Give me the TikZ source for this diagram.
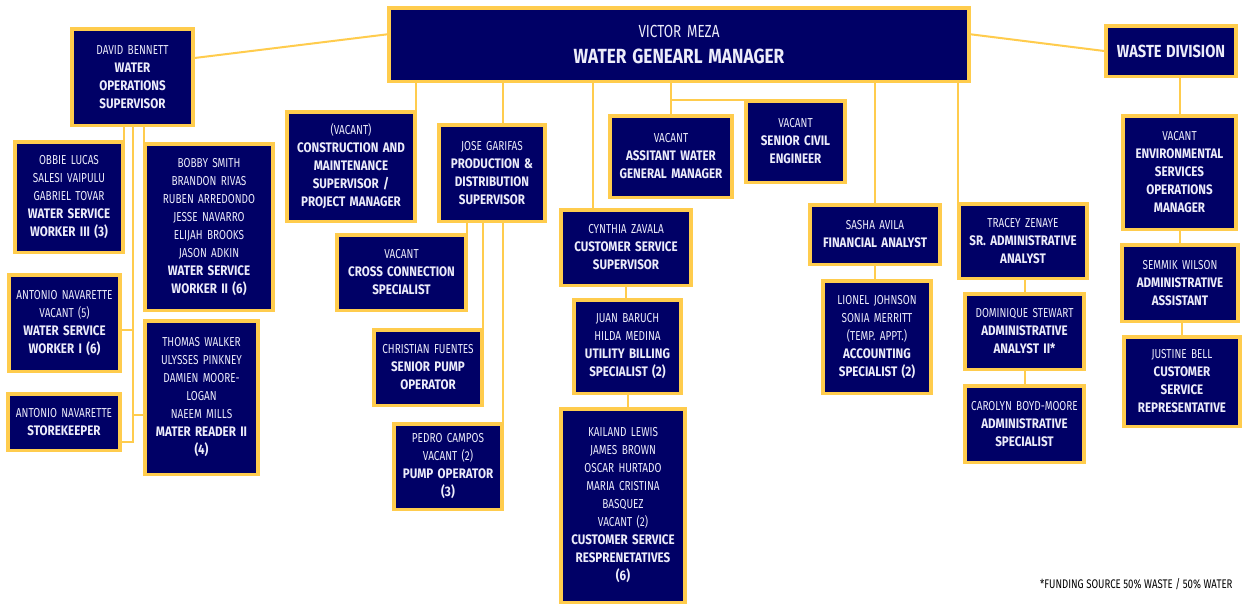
\documentclass[tikz,border=0pt]{standalone}
\usepackage{fontspec}
\newfontfamily\nmfamily{Fira Sans}[FakeStretch=0.77]
\newfontfamily\tlfamily{Fira Sans}[FakeStretch=0.84]
\newcommand\nmfont{\nmfamily\fontsize{13}{18}\selectfont}
\newcommand\ttlfont{\tlfamily\bfseries\fontsize{13.8}{18}\selectfont}
\definecolor{orgNavy}{RGB}{0,0,102}
\definecolor{orgGold}{RGB}{255,204,77}
\definecolor{orgText}{RGB}{236,236,250}
\begin{document}
\begin{tikzpicture}[x=1pt, y=-1pt,
    orgUnit/.style={draw=orgGold, line width=3.5pt, fill=orgNavy, text=orgText, align=center,
        inner xsep=2pt, inner ysep=0pt, font=\nmfont},
    orgLink/.style={draw=orgGold, line width=2pt}]
    \useasboundingbox[fill=white] (0,0) rectangle (1243,605);

    % top level
    \node[orgUnit, text width=576pt, minimum height=73.5pt,
        font=\nmfamily\fontsize{17.5}{26}\selectfont] (gm) at (679,44.5)
        {VICTOR MEZA\\\tlfamily\bfseries\fontsize{20.5}{26}\selectfont WATER GENEARL MANAGER};
    \node[orgUnit, text width=126pt, minimum height=50.5pt] (waste) at (1171,51)
        {\tlfamily\bfseries\fontsize{17.5}{18}\selectfont WASTE DIVISION};

    % water operations
    \node[orgUnit, text width=117pt, minimum height=96.5pt] (bennett) at (132.5,77)
        {DAVID BENNETT\\\ttlfont WATER\\OPERATIONS\\SUPERVISOR};
    \node[orgUnit, text width=104pt, minimum height=110.5pt] (obbie) at (69,197)
        {OBBIE LUCAS\\SALESI VAIPULU\\GABRIEL TOVAR\\\ttlfont WATER SERVICE\\WORKER III (3)};
    \node[orgUnit, text width=124pt, minimum height=166.5pt] (bobby) at (209,227)
        {BOBBY SMITH\\BRANDON RIVAS\\RUBEN ARREDONDO\\JESSE NAVARRO\\ELIJAH BROOKS\\JASON ADKIN\\\ttlfont WATER SERVICE\\WORKER II (6)};
    \node[orgUnit, text width=107pt, minimum height=96.5pt] (antonio) at (64.5,323)
        {ANTONIO NAVARETTE\\VACANT (5)\\\ttlfont WATER SERVICE\\WORKER I (6)};
    \node[orgUnit, text width=108pt, minimum height=56.5pt] (store) at (64,422)
        {ANTONIO NAVARETTE\\\ttlfont STOREKEEPER};
    \node[orgUnit, text width=109pt, minimum height=153.5pt] (thomas) at (201.5,397.5)
        {THOMAS WALKER\\ULYSSES PINKNEY\\DAMIEN MOORE-\\LOGAN\\NAEEM MILLS\\\ttlfont MATER READER II\\(4)};

    % construction and production
    \node[orgUnit, text width=124pt, minimum height=109.5pt] (constr) at (351,166.5)
        {(VACANT)\\\ttlfont CONSTRUCTION AND\\MAINTENANCE\\SUPERVISOR /\\PROJECT MANAGER};
    \node[orgUnit, text width=102pt, minimum height=96.5pt] (jose) at (492,173)
        {JOSE GARIFAS\\\ttlfont PRODUCTION \&\\DISTRIBUTION\\SUPERVISOR};
    \node[orgUnit, text width=125pt, minimum height=75.5pt] (cross) at (401.5,272.5)
        {VACANT\\\ttlfont CROSS CONNECTION\\SPECIALIST};
    \node[orgUnit, text width=104pt, minimum height=75.5pt] (christian) at (428,367.5)
        {CHRISTIAN FUENTES\\\ttlfont SENIOR PUMP\\OPERATOR};
    \node[orgUnit, text width=104pt, minimum height=85.5pt] (pedro) at (448,466.5)
        {PEDRO CAMPOS\\VACANT (2)\\\ttlfont PUMP OPERATOR\\(3)};

    % assistant, engineering, customer service
    \node[orgUnit, text width=118pt, minimum height=81.5pt] (asstgm) at (671,156.5)
        {VACANT\\\ttlfont ASSITANT WATER\\GENERAL MANAGER};
    \node[orgUnit, text width=95pt, minimum height=81.5pt] (civil) at (795.5,141.5)
        {VACANT\\\ttlfont SENIOR CIVIL\\ENGINEER};
    \node[orgUnit, text width=126pt, minimum height=75.5pt] (cynthia) at (626,247.5)
        {CYNTHIA ZAVALA\\\ttlfont CUSTOMER SERVICE\\SUPERVISOR};
    \node[orgUnit, text width=103pt, minimum height=93.5pt] (juan) at (627.5,346.5)
        {JUAN BARUCH\\HILDA MEDINA\\\ttlfont UTILITY BILLING\\SPECIALIST (2)};
    \node[orgUnit, text width=120pt, minimum height=193.5pt] (kailand) at (623,505.5)
        {KAILAND LEWIS\\JAMES BROWN\\OSCAR HURTADO\\MARIA CRISTINA\\BASQUEZ\\VACANT (2)\\\ttlfont CUSTOMER SERVICE\\RESPRENETATIVES\\(6)};

    % finance and administration
    \node[orgUnit, text width=126pt, minimum height=59.5pt] (sasha) at (875,234.5)
        {SASHA AVILA\\\ttlfont FINANCIAL ANALYST};
    \node[orgUnit, text width=104pt, minimum height=112.5pt] (lionel) at (877,337)
        {LIONEL JOHNSON\\SONIA MERRITT\\(TEMP. APPT.)\\\ttlfont ACCOUNTING\\SPECIALIST (2)};
    \node[orgUnit, text width=124pt, minimum height=74.5pt] (tracey) at (1023,241)
        {TRACEY ZENAYE\\\ttlfont SR. ADMINISTRATIVE\\ANALYST};
    \node[orgUnit, text width=115pt, minimum height=75.5pt] (dominique) at (1024.5,331.5)
        {DOMINIQUE STEWART\\\ttlfont ADMINISTRATIVE\\ANALYST II*};
    \node[orgUnit, text width=115pt, minimum height=76.5pt] (carolyn) at (1024.5,424)
        {CAROLYN BOYD-MOORE\\\ttlfont ADMINISTRATIVE\\SPECIALIST};

    % waste division
    \node[orgUnit, text width=109pt, minimum height=113.5pt] (env) at (1179.5,172.5)
        {VACANT\\\ttlfont ENVIRONMENTAL\\SERVICES\\OPERATIONS\\MANAGER};
    \node[orgUnit, text width=112pt, minimum height=76.5pt] (semmik) at (1180,283)
        {SEMMIK WILSON\\\ttlfont ADMINISTRATIVE\\ASSISTANT};
    \node[orgUnit, text width=112pt, minimum height=89.5pt] (justine) at (1182,381.5)
        {JUSTINE BELL\\\ttlfont CUSTOMER\\SERVICE\\REPRESENTATIVE};

    \node[anchor=east, font=\nmfamily\fontsize{12.5}{14}\selectfont] (note) at (1236,584)
        {*FUNDING SOURCE 50\% WASTE / 50\% WATER};

    % connectors
    \draw[orgLink] (bennett.17) -- (gm.178);
    \draw[orgLink] (gm.2) -- (waste.west);
    \draw[orgLink] ([xshift=-1pt]obbie.north east) -- ([xshift=-1pt]obbie.north east |- bennett.south);
    \draw[orgLink] ([xshift=1pt]bobby.north west) -- ([xshift=1pt]bobby.north west |- bennett.south);
    \draw[orgLink] (bennett.south) |- ([yshift=-20pt]store.east);
    \draw[orgLink] ([yshift=-7pt]antonio.east) -- ([yshift=-7pt]antonio.east -| bennett.south);
    \draw[orgLink] ([yshift=-17pt]thomas.west) -- ([yshift=-17pt]thomas.west -| bennett.south);
    \draw[orgLink] ([xshift=-1pt]constr.north east) -- ([xshift=-1pt]constr.north east |- gm.south);
    \draw[orgLink] ([xshift=-1pt]pedro.north east |- gm.south) -- ([xshift=-1pt]pedro.north east |- jose.north);
    \draw[orgLink] ([xshift=-1pt]cross.north east) -- ([xshift=-1pt]cross.north east |- jose.south);
    \draw[orgLink] ([xshift=-1pt]christian.north east) -- ([xshift=-1pt]christian.north east |- jose.south);
    \draw[orgLink] ([xshift=-1pt]pedro.north east) -- ([xshift=-1pt]pedro.north east |- jose.south);
    \draw[orgLink] ([xshift=-33pt]cynthia.north) -- ([xshift=-33pt]cynthia.north |- gm.south);
    \draw[orgLink] (asstgm.north) -- (asstgm.north |- gm.south);
    \draw[orgLink] ([yshift=-1pt]asstgm.north |- civil.north west) -- ([yshift=-1pt]civil.north west);
    \draw[orgLink] (cynthia.south) -- (cynthia.south |- juan.north);
    \draw[orgLink] (juan.north |- juan.south) -- (juan.north |- kailand.north);
    \draw[orgLink] (sasha.north) -- (sasha.north |- gm.south);
    \draw[orgLink] (sasha.south) -- (sasha.south |- lionel.north);
    \draw[orgLink] ([xshift=1pt]tracey.north west) -- ([xshift=1pt]tracey.north west |- gm.south);
    \draw[orgLink] (dominique.north) -- (dominique.north |- tracey.south);
    \draw[orgLink] (carolyn.north) -- (carolyn.north |- dominique.south);
    \draw[orgLink] (env.north) -- (env.north |- waste.south);
    \draw[orgLink] (semmik.north) -- (semmik.north |- env.south);
    \draw[orgLink] (justine.north) -- (justine.north |- semmik.south);
\end{tikzpicture}
\end{document}
